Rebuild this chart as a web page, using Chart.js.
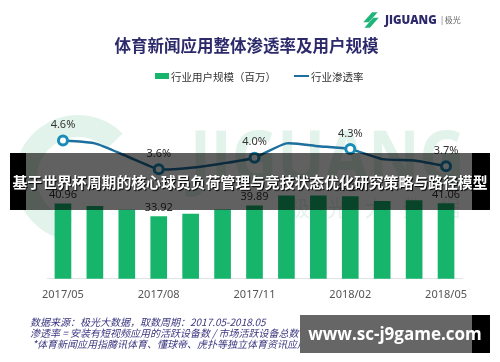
<!DOCTYPE html>
<html>
<head>
<meta charset="utf-8">
<script src="https://cdn.jsdelivr.net/npm/chart.js@4"></script>
<style>
  body { margin: 0; background: #fff; font-family: "Noto Sans", "Noto Sans CJK SC", sans-serif; }
  #wrap { position: relative; width: 500px; height: 362px; overflow: hidden; background: #fff; }
  #chart { position: absolute; left: 0; top: 0; }
  .abs { position: absolute; white-space: nowrap; }
  #title { left: 0; width: 493px; top: 33px; text-align: center; font: 700 16.5px "Noto Sans CJK SC"; color: #2d2a6c; }
  #legend { top: 67px; left: 155px; font: 10.5px "Noto Sans CJK SC"; color: #333; }
  #legend span { display: inline-block; vertical-align: middle; }
  .swatch { width: 14px; height: 6px; background: #17b46c; margin-right: 2px; }
  .lineKey { width: 15px; height: 2px; background: #1d6f9e; margin: 0 2px 0 18px; }
  #logo { top: 7px; left: 361px; }
  #logo .brand { font: 800 11.5px "Open Sans"; color: #2d2a6c; margin-left: 4px; vertical-align: middle; }
  #logo .cn { font: 8px "Noto Sans CJK SC"; color: #666; vertical-align: middle; }
  #note { left: 30px; top: 316px; font: italic 10px/11.2px "Noto Sans CJK SC"; color: #3b3780; }
  #bannerL { left: 10px; top: 153px; width: 16px; height: 57px; background: #000; }
  #bannerR { left: 472px; top: 153px; width: 18px; height: 57px; background: #000; }
  #bannerShade { left: 26px; top: 153px; width: 446px; height: 57px; background: rgba(0,0,0,0.62); }
  #bannerText { left: 8px; top: 153px; width: 484px; height: 57px; text-align: center; color: #fff; font: 700 14.85px/57px "Noto Sans CJK SC"; text-shadow: 1px 1px 1px #000; }
  #siteEdge { left: 472px; top: 315px; width: 18px; height: 38px; background: #000; }
  #siteFill { left: 300px; top: 315px; width: 172px; height: 38px; background: #666; }
  #siteText { left: 300px; top: 315px; width: 190px; height: 38px; text-align: center; color: #fff; font: 700 17px/38px "Open Sans"; }
</style>
</head>
<body>
<div id="wrap">
  <canvas id="chart" width="500" height="362"></canvas>
  <div class="abs" id="logo">
    <svg width="20" height="22" viewBox="0 0 18 20" style="vertical-align: middle">
      <path d="M2 12 L10 3 L15 3 L7 12 Z" fill="#1fb57a"/>
      <path d="M3 17 L11 8 L16 8 L8 17 Z" fill="#1fb57a"/>
    </svg><span class="brand">JIGUANG</span> <span class="cn">| 极光</span>
  </div>
  <div class="abs" id="title">体育新闻应用整体渗透率及用户规模</div>
  <div class="abs" id="legend"><span class="swatch"></span><span>行业用户规模（百万）</span><span class="lineKey"></span><span>行业渗透率</span></div>
  <div class="abs" id="note">数据来源：极光大数据，取数周期：2017.05-2018.05<br>渗透率 = 安装有短视频应用的活跃设备数 / 市场活跃设备总数<br>&nbsp;*体育新闻应用指腾讯体育、懂球帝、虎扑等独立体育资讯应用</div>
  <div class="abs" id="bannerL"></div>
  <div class="abs" id="bannerR"></div>
  <div class="abs" id="bannerShade"></div>
  <div class="abs" id="bannerText">基于世界杯周期的核心球员负荷管理与竞技状态优化研究策略与路径模型</div>
  <div class="abs" id="siteEdge"></div>
  <div class="abs" id="siteFill"></div>
  <div class="abs" id="siteText">www.sc-j9game.com</div>
</div>
<script>
// chart data
const months = ['2017/05', '2017/06', '2017/07', '2017/08', '2017/09', '2017/10', '2017/11',
                '2017/12', '2018/01', '2018/02', '2018/03', '2018/04', '2018/05'];
const users = [40.96, 39.6, 37.5, 33.92, 35.3, 37.7, 39.89, 45.3, 45.3, 44.9, 42.3, 42.7, 41.06];
const rate = [4.6, 4.5, 4.05, 3.6, 3.65, 3.8, 4.0, 4.5, 4.4, 4.3, 3.95, 3.9, 3.7];
const shownEvery = 3;

// pale brand watermark behind the marks
const watermark = {
    id: 'watermark',
    beforeDatasetsDraw(chart) {
        const ctx = chart.ctx;
        ctx.save();
        ctx.fillStyle = '#e2f3eb';
        ctx.strokeStyle = '#e2f3eb';
        ctx.lineWidth = 22;
        ctx.beginPath();
        ctx.arc(78, 178, 52, 0.55 * Math.PI, 1.75 * Math.PI);
        ctx.stroke();
        ctx.font = '700 72px "Open Sans"';
        ctx.textBaseline = 'alphabetic';
        ctx.fillText('JIGUANG', 190, 182, 275);
        ctx.font = '22px "Noto Sans CJK SC"';
        ctx.fillText('极    光    大    数    据', 290, 216, 170);
        ctx.restore();
    }
};

const valueLabels = {
    id: 'valueLabels',
    afterDatasetsDraw(chart) {
        const ctx = chart.ctx;
        ctx.save();
        ctx.font = '11px "Noto Sans"';
        ctx.fillStyle = '#333';
        ctx.textAlign = 'center';
        ctx.textBaseline = 'bottom';
        chart.getDatasetMeta(1).data.forEach((bar, i) => {
            if (i % shownEvery) return;
            ctx.fillText(users[i].toFixed(2), bar.x, bar.y - 3);
        });
        chart.getDatasetMeta(0).data.forEach((pt, i) => {
            if (i % shownEvery) return;
            ctx.fillText(rate[i].toFixed(1) + '%', pt.x, pt.y - 10);
        });
        ctx.restore();
    }
};

new Chart(document.getElementById('chart'), {
    data: {
        labels: months,
        datasets: [{
            type: 'line',
            data: rate,
            yAxisID: 'y2',
            borderColor: '#1d6f9e',
            borderWidth: 2.5,
            tension: 0.2,
            pointRadius: (c) => c.dataIndex % shownEvery ? 0 : 4.5,
            pointBorderWidth: 3,
            pointBorderColor: '#1a8cb8',
            pointBackgroundColor: '#fff'
        }, {
            type: 'bar',
            data: users,
            yAxisID: 'y',
            backgroundColor: '#17b46c',
            barThickness: 16
        }]
    },
    options: {
        responsive: false,
        animation: false,
        layout: { padding: { left: 47, right: 38, top: 110, bottom: 52 } },
        plugins: { legend: { display: false }, tooltip: { enabled: false } },
        scales: {
            x: {
                grid: { display: false, drawTicks: false },
                border: { color: '#e3e3e3' },
                ticks: {
                    autoSkip: false,
                    maxRotation: 0,
                    padding: 9,
                    color: '#555',
                    font: { size: 11, family: 'Noto Sans' },
                    callback: (v, i) => i % shownEvery ? '' : months[i]
                }
            },
            y: { display: false, min: 0, max: 92.2 },
            y2: { display: false, min: -0.233, max: 5.667 }
        }
    },
    plugins: [watermark, valueLabels]
});
</script>
</body>
</html>
